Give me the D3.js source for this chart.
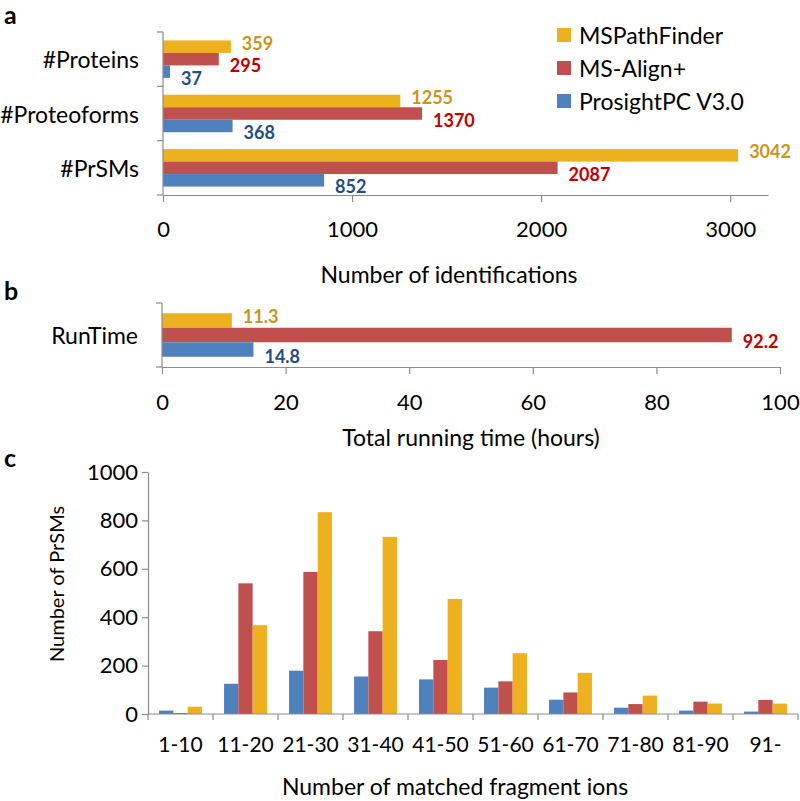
<!DOCTYPE html>
<html><head><meta charset="utf-8">
<script src="https://cdn.jsdelivr.net/npm/d3@7"></script>
<style>
html,body{margin:0;padding:0;background:#fff;}
svg{display:block;font-family:Lato, "Open Sans", sans-serif;}
.axis path,.axis line{stroke:#8c8c8c;stroke-width:1.2;}
</style></head>
<body>
<svg id="chart" width="800" height="801"></svg>
<script>
// ---------- data ----------
const seriesNames = ["MSPathFinder", "MS-Align+", "ProsightPC V3.0"];
const idCategories = ["#Proteins", "#Proteoforms", "#PrSMs"];
const msPathFinderIds = [359, 1255, 3042];
const msAlignIds = [295, 1370, 2087];
const prosightIds = [37, 368, 852];
const idTicks = [0, 1000, 2000, 3000];

const timeCategories = ["RunTime"];
const msPathFinderTime = [11.3];
const msAlignTime = [92.2];
const prosightTime = [14.8];
const timeTicks = [0, 20, 40, 60, 80, 100];

const fragCategories = ["1-10", "11-20", "21-30", "31-40", "41-50", "51-60", "61-70", "71-80", "81-90", "91-"];
const prosightFrag = [14, 125, 179, 155, 143, 109, 59, 26, 14, 10];
const msAlignFrag = [4, 540, 587, 342, 223, 135, 89, 41, 51, 58];
const msPathFinderFrag = [30, 367, 834, 732, 475, 251, 170, 76, 43, 43];
const prsmTicks = [0, 200, 400, 600, 800, 1000];

// ---------- styles ----------
const barColor = {"MSPathFinder": "#EDB120", "MS-Align+": "#C0504D", "ProsightPC V3.0": "#4F81BD"};
const labelColor = {"MSPathFinder": "#C9961B", "MS-Align+": "#C00000", "ProsightPC V3.0": "#234E85"};
const labelDy = {"MSPathFinder": -4, "MS-Align+": 6, "ProsightPC V3.0": 6};
const tickFont = "22px", titleFont = "23px", valFont = "18px";

const svg = d3.select("#chart");

function panelLetter(t, x, y) {
  svg.append("text").attr("x", x).attr("y", y).attr("font-size", "25px")
    .attr("font-weight", "bold").text(t);
}

// ---------- Panel a ----------
const idsBySeries = {"MSPathFinder": msPathFinderIds, "MS-Align+": msAlignIds, "ProsightPC V3.0": prosightIds};
const xa = d3.scaleLinear().domain([0, 3200]).range([163, 768]);
const ya = d3.scaleBand().domain(idCategories).range([32, 195]);
const sa = d3.scaleBand().domain(seriesNames).range([ya.bandwidth() * 0.155, ya.bandwidth() * 0.845]);

function hBars(g, cats, bySeries, x, y, s, fmt) {
  cats.forEach((c, i) => {
    seriesNames.forEach(sn => {
      const v = bySeries[sn][i];
      g.append("rect").attr("x", x(0)).attr("y", y(c) + s(sn))
        .attr("width", x(v) - x(0)).attr("height", s.bandwidth()).attr("fill", barColor[sn]);
      g.append("text").attr("x", x(v) + 11).attr("y", y(c) + s(sn) + s.bandwidth() / 2 + labelDy[sn])
        .attr("dominant-baseline", "central").attr("font-size", valFont).attr("font-weight", "bold")
        .attr("fill", labelColor[sn]).text(fmt(v));
    });
  });
}

const ga = svg.append("g");
hBars(ga, idCategories, idsBySeries, xa, ya, sa, d => d);

function yBandAxis(g, y, x0, cats) {
  const ax = g.append("g").attr("class", "axis");
  ax.append("line").attr("x1", x0).attr("x2", x0).attr("y1", y.range()[0]).attr("y2", y.range()[1]);
  const bounds = cats.map(c => y(c)).concat([y.range()[1]]);
  bounds.forEach(b => ax.append("line").attr("x1", x0 - 6).attr("x2", x0).attr("y1", b).attr("y2", b));
  cats.forEach(c => g.append("text").attr("x", x0 - 24).attr("y", y(c) + y.bandwidth() / 2)
    .attr("text-anchor", "end").attr("dominant-baseline", "central").attr("font-size", titleFont).text(c));
}
yBandAxis(ga, ya, 163, idCategories);

function xAxisBottom(g, x, yPos, ticks, labelOffset) {
  const ax = g.append("g").attr("class", "axis").attr("transform", `translate(0,${yPos})`)
    .call(d3.axisBottom(x).tickValues(ticks).tickSizeInner(7).tickSizeOuter(0).tickFormat(d3.format("d")));
  ax.selectAll("text").attr("y", labelOffset).attr("dy", "0.35em").attr("font-size", tickFont)
    .attr("font-family", "Lato").attr("fill", "#000");
  return ax;
}
xAxisBottom(ga, xa, 195, idTicks, 34);
ga.append("text").attr("x", 449).attr("y", 274)
  .attr("text-anchor", "middle").attr("dominant-baseline", "central").attr("font-size", titleFont)
  .text("Number of identifications");

// legend
seriesNames.forEach((sn, i) => {
  const ly = 35 + i * 33;
  svg.append("rect").attr("x", 557).attr("y", ly - 7).attr("width", 14).attr("height", 14).attr("fill", barColor[sn]);
  svg.append("text").attr("x", 579).attr("y", ly).attr("dominant-baseline", "central")
    .attr("font-size", titleFont).text(sn);
});
panelLetter("a", 4, 24);

// ---------- Panel b ----------
const timeBySeries = {"MSPathFinder": msPathFinderTime, "MS-Align+": msAlignTime, "ProsightPC V3.0": prosightTime};
const xb = d3.scaleLinear().domain([0, 100]).range([162, 780]);
const yb = d3.scaleBand().domain(timeCategories).range([303, 367]);
const sb = d3.scaleBand().domain(seriesNames).range([yb.bandwidth() * 0.16, yb.bandwidth() * 0.84]);
const gb = svg.append("g");
hBars(gb, timeCategories, timeBySeries, xb, yb, sb, d => d.toFixed(1));
yBandAxis(gb, yb, 162, timeCategories);
xAxisBottom(gb, xb, 367, timeTicks, 35);
gb.append("text").attr("x", 471).attr("y", 437)
  .attr("text-anchor", "middle").attr("dominant-baseline", "central").attr("font-size", titleFont)
  .text("Total running time (hours)");
panelLetter("b", 4, 300);

// ---------- Panel c ----------
const fragBySeries = {"MSPathFinder": msPathFinderFrag, "MS-Align+": msAlignFrag, "ProsightPC V3.0": prosightFrag};
const colOrder = ["ProsightPC V3.0", "MS-Align+", "MSPathFinder"];
const xc = d3.scaleBand().domain(fragCategories).range([148, 798]);
const sc = d3.scaleBand().domain(colOrder).range([xc.bandwidth() * 0.17, xc.bandwidth() * 0.83]);
const yc = d3.scaleLinear().domain([0, 1000]).range([714, 472]);
const gc = svg.append("g");
fragCategories.forEach((c, i) => {
  colOrder.forEach(sn => {
    const v = fragBySeries[sn][i];
    gc.append("rect").attr("x", xc(c) + sc(sn)).attr("y", yc(v))
      .attr("width", sc.bandwidth()).attr("height", yc(0) - yc(v)).attr("fill", barColor[sn]);
  });
});
const yAx = gc.append("g").attr("class", "axis").attr("transform", "translate(148,0)")
  .call(d3.axisLeft(yc).tickValues(prsmTicks).tickSizeInner(6).tickSizeOuter(0).tickFormat(d3.format("d")));
yAx.selectAll("text").attr("x", -10).attr("font-size", tickFont).attr("font-family", "Lato").attr("fill", "#000");
const xAx = gc.append("g").attr("class", "axis").attr("transform", "translate(0,714)");
xAx.append("line").attr("x1", xc.range()[0]).attr("x2", xc.range()[1]).attr("y1", 0).attr("y2", 0);
fragCategories.forEach(c => xAx.append("line").attr("x1", xc(c)).attr("x2", xc(c)).attr("y1", 0).attr("y2", 6));
xAx.append("line").attr("x1", xc.range()[1]).attr("x2", xc.range()[1]).attr("y1", 0).attr("y2", 6);
fragCategories.forEach(c => gc.append("text").attr("x", xc(c) + xc.bandwidth() / 2).attr("y", 743)
  .attr("text-anchor", "middle").attr("dominant-baseline", "central").attr("font-size", "21px").text(c));
gc.append("text").attr("x", 455).attr("y", 786).attr("text-anchor", "middle")
  .attr("dominant-baseline", "central").attr("font-size", titleFont).text("Number of matched fragment ions");
gc.append("text").attr("transform", "translate(56,584) rotate(-90)").attr("text-anchor", "middle")
  .attr("dominant-baseline", "central").attr("font-size", "20px").text("Number of PrSMs");
panelLetter("c", 4, 467);
</script>
</body></html>
